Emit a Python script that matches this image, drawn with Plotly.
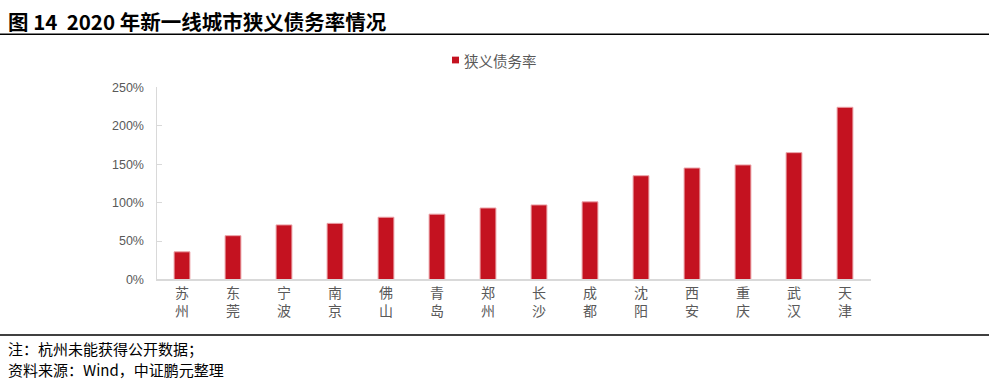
import plotly.graph_objects as go

cities = ["苏州", "东莞", "宁波", "南京", "佛山", "青岛", "郑州", "长沙", "成都", "沈阳", "西安", "重庆", "武汉", "天津"]
ratio = [36, 57, 71, 73, 81, 85, 93, 97, 101, 135, 145, 149, 165, 224]
y_tick_vals = [0, 50, 100, 150, 200, 250]
y_tick_text = ["0%", "50%", "100%", "150%", "200%", "250%"]
series_name = "狭义债务率"
title_text = "图 14  2020 年新一线城市狭义债务率情况"
note_text = "注：杭州未能获得公开数据；"
source_text = "资料来源：Wind，中证鹏元整理"

W, H = 989, 388
BAR = "#C41220"
GRAY = "#595959"
AXIS = "#d9d9d9"
CJK = "Noto Sans CJK SC"


def px(x):
    return x / W


def py(y):
    return 1 - y / H


labels = ["<br>".join(c) for c in cities]

fig = go.Figure(
    go.Bar(
        x=labels,
        y=ratio,
        name=series_name,
        marker=dict(color=BAR, line=dict(color="#EBA3A8", width=1)),
        showlegend=False,
    )
)

fig.update_layout(
    width=W,
    height=H,
    margin=dict(l=0, r=0, t=0, b=0),
    paper_bgcolor="white",
    plot_bgcolor="white",
    bargap=0.69,
    font=dict(family=CJK, color=GRAY),
    xaxis=dict(
        domain=[px(156.5), px(870.5)],
        showline=True,
        linecolor=AXIS,
        linewidth=2,
        ticks="",
        tickfont=dict(size=14, color=GRAY, family=CJK),
        showgrid=False,
        fixedrange=True,
    ),
    yaxis=dict(
        domain=[py(282.7), py(83.3)],
        range=[0, 250],
        tickvals=y_tick_vals,
        ticktext=y_tick_text,
        showline=True,
        linecolor=AXIS,
        linewidth=1,
        ticks="inside",
        ticklen=5,
        tickcolor=AXIS,
        ticklabelstandoff=9,
        showgrid=False,
        zeroline=False,
        tickfont=dict(size=12.5, color=GRAY, family="Liberation Sans, " + CJK),
        fixedrange=True,
    ),
)

shapes = [
    dict(type="line", xref="paper", yref="paper", x0=0, x1=1, y0=py(28.3), y1=py(28.3),
         line=dict(color="black", width=1.5)),
    dict(type="line", xref="paper", yref="paper", x0=0, x1=1, y0=py(340.3), y1=py(340.3),
         line=dict(color="black", width=1.5)),
    dict(type="rect", xref="paper", yref="paper", x0=px(452), x1=px(459), y0=py(58.5), y1=py(51.5),
         fillcolor=BAR, line=dict(width=0)),
]

annotations = [
    dict(text="<b>" + title_text + "</b>", xref="paper", yref="paper", x=px(6), y=py(14.5),
         xanchor="left", yanchor="middle", showarrow=False,
         font=dict(size=20.5, color="black", family=CJK)),
    dict(text=series_name, xref="paper", yref="paper", x=px(462), y=py(55),
         xanchor="left", yanchor="middle", showarrow=False,
         font=dict(size=14.5, color=GRAY, family=CJK)),
    dict(text=note_text, xref="paper", yref="paper", x=px(7), y=py(354),
         xanchor="left", yanchor="middle", showarrow=False, borderpad=0,
         font=dict(size=15, color="black", family=CJK)),
    dict(text=source_text, xref="paper", yref="paper", x=px(7), y=py(376.5),
         xanchor="left", yanchor="middle", showarrow=False, borderpad=0,
         font=dict(size=15, color="black", family=CJK)),
]

fig.update_layout(shapes=shapes, annotations=annotations)

fig.write_html(
    "out.html",
    config={"displayModeBar": False},
    post_script="document.body.style.margin='0';document.body.style.overflow='hidden';",
)
